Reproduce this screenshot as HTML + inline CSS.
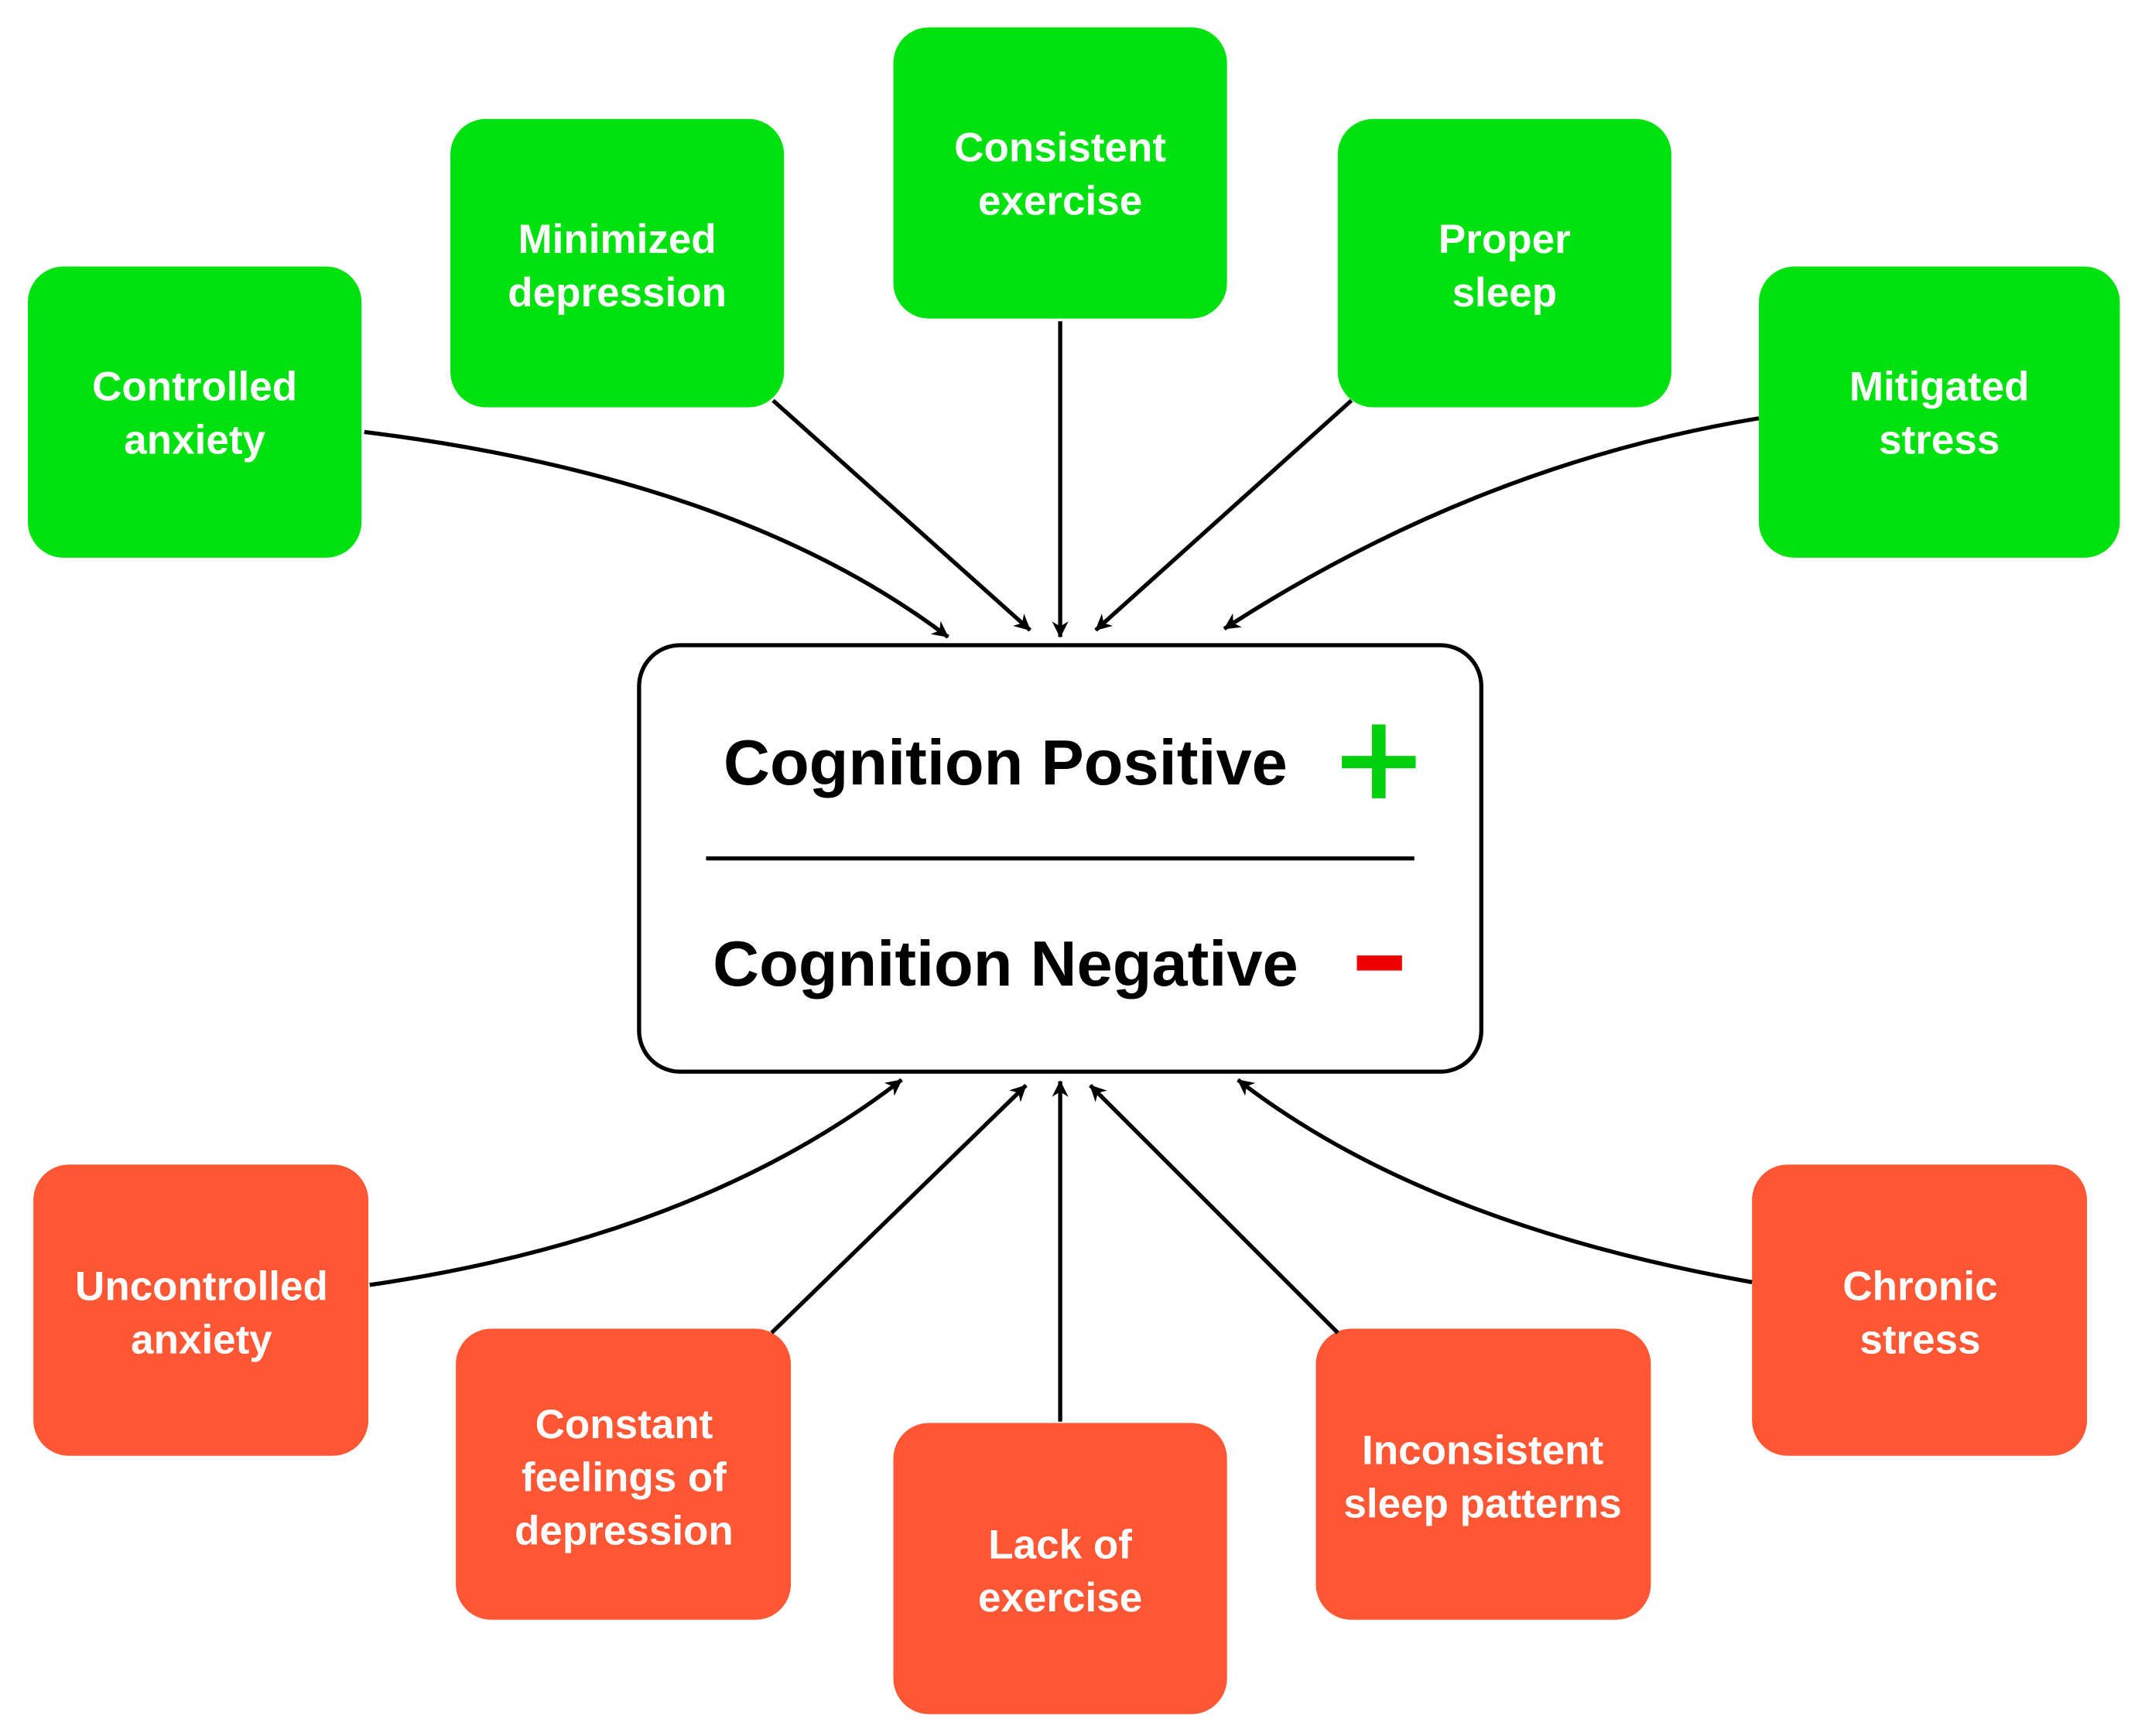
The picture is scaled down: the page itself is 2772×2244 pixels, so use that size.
<!DOCTYPE html>
<html><head><meta charset="utf-8"><style>
html,body{margin:0;padding:0;background:#fff;}
svg{display:block;}
text{font-family:"Liberation Sans",Arial,sans-serif;font-weight:bold;}
.w{fill:#fff;font-size:30px;text-anchor:middle;}
.a{stroke:#000;stroke-width:3;fill:none;marker-end:url(#ah);}
</style></head><body>
<svg width="2772" height="2244" viewBox="0 0 1568 1270" xmlns="http://www.w3.org/2000/svg">
<defs><marker id="ah" viewBox="0 0 10 10" refX="9" refY="5" markerWidth="6" markerHeight="6" orient="auto" markerUnits="userSpaceOnUse" style="overflow:visible"><path d="M0,0 L10,5 L0,10 L3,5 z" fill="#000" transform="scale(2) translate(-5,-2.5)"/></marker></defs>
<rect width="1568" height="1270" fill="#fff"/>
<g fill="#00e20f">
<rect x="20" y="195" width="244" height="213" rx="26"/>
<rect x="329" y="87" width="244" height="211" rx="26"/>
<rect x="653" y="20" width="244" height="213" rx="26"/>
<rect x="978" y="87" width="244" height="211" rx="26"/>
<rect x="1286" y="195" width="264" height="213" rx="26"/>
</g>
<g fill="#ff5634">
<rect x="24" y="852" width="245" height="213" rx="26"/>
<rect x="333" y="972" width="245" height="213" rx="26"/>
<rect x="653" y="1041" width="244" height="213" rx="26"/>
<rect x="962" y="972" width="245" height="213" rx="26"/>
<rect x="1281" y="852" width="245" height="213" rx="26"/>
</g>
<g class="w">
<text x="142" y="293" class="w">Controlled</text><text x="142" y="332" class="w">anxiety</text>
<text x="451" y="185" class="w">Minimized</text><text x="451" y="224" class="w">depression</text>
<text x="775" y="118" class="w">Consistent</text><text x="775" y="157" class="w">exercise</text>
<text x="1100" y="185" class="w">Proper</text><text x="1100" y="224" class="w">sleep</text>
<text x="1418" y="293" class="w">Mitigated</text><text x="1418" y="332" class="w">stress</text>
<text x="147" y="951" class="w">Uncontrolled</text><text x="147" y="990" class="w">anxiety</text>
<text x="456" y="1052" class="w">Constant</text><text x="456" y="1091" class="w">feelings of</text><text x="456" y="1130" class="w">depression</text>
<text x="775" y="1140" class="w">Lack of</text><text x="775" y="1179" class="w">exercise</text>
<text x="1084" y="1071" class="w">Inconsistent</text><text x="1084" y="1110" class="w">sleep patterns</text>
<text x="1404" y="951" class="w">Chronic</text><text x="1404" y="990" class="w">stress</text>
</g>
<rect x="467" y="472" width="616" height="312" rx="30" fill="#fff" stroke="#000" stroke-width="3"/>
<text x="735" y="574" font-size="47" text-anchor="middle" fill="#000">Cognition Positive</text>
<text x="735" y="721" font-size="47" text-anchor="middle" fill="#000">Cognition Negative</text>
<rect x="981" y="553" width="54" height="9" fill="#00d00d"/><rect x="1003" y="530" width="10" height="54" fill="#00d00d"/>
<rect x="992" y="699" width="33" height="11" fill="#ee0000"/>
<line x1="516" y1="628" x2="1034" y2="628" stroke="#000" stroke-width="3"/>
<path class="a" d="M266,316 Q540,350 693,466"/>
<path class="a" d="M565,293 L753,461"/>
<path class="a" d="M775,235 L775,466"/>
<path class="a" d="M988,293 L801,461"/>
<path class="a" d="M1286,306 Q1080,340 895,460"/>
<path class="a" d="M270,940 Q510,905 659,790"/>
<path class="a" d="M564,975 L750,794"/>
<path class="a" d="M775,1040 L775,791"/>
<path class="a" d="M978,975 L797,794"/>
<path class="a" d="M1281,938 Q1040,895 905,790"/>
</svg>
</body></html>
